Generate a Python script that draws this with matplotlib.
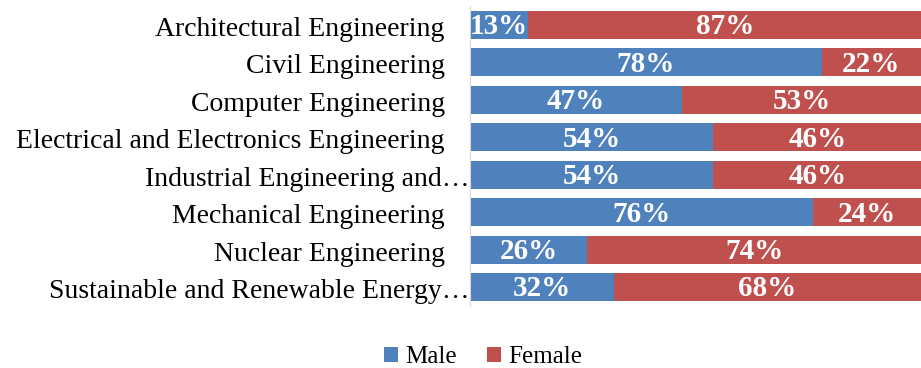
import matplotlib.pyplot as plt
import numpy as np

plt.rcParams['font.family'] = ['Liberation Serif', 'DejaVu Serif']

# data
majors = ['Architectural Engineering', 'Civil Engineering', 'Computer Engineering',
          'Electrical and Electronics Engineering', 'Industrial Engineering and\u2026',
          'Mechanical Engineering', 'Nuclear Engineering',
          'Sustainable and Renewable Energy\u2026']
male = [13, 78, 47, 54, 54, 76, 26, 32]
female = [87, 22, 53, 46, 46, 24, 74, 68]

fig = plt.figure(figsize=(9.21, 3.68), dpi=100)
ax = fig.add_axes([0.510, 0.169, 0.49, 0.814])

y = np.arange(len(majors))
b1 = ax.barh(y, male, height=0.75, color='#4F81BD', label='Male')
b2 = ax.barh(y, female, left=male, height=0.75, color='#C0504D', label='Female')

for bars, vals in ((b1, male), (b2, female)):
    for bar, v in zip(bars, vals):
        ax.text(bar.get_x() + bar.get_width() / 2, bar.get_y() + bar.get_height() / 2 + 0.05,
                f'{v}%', ha='center', va='center', color='white',
                fontsize=21, fontweight='bold')

# category labels; truncated ones run up to the axis
for yi, name in zip(y, majors):
    off = 0 if name.endswith('\u2026') else 18
    ax.annotate(name, xy=(0, yi), xycoords=ax.get_yaxis_transform(),
                xytext=(-off, -1), textcoords='offset points',
                ha='right', va='center_baseline', fontsize=20)

ax.set_xlim(0, 100)
ax.set_ylim(len(majors) - 0.5, -0.5)
ax.set_yticks([])
ax.set_xticks([])
for s in ['top', 'right', 'bottom']:
    ax.spines[s].set_visible(False)
ax.spines['left'].set_color('#D9D9D9')

fig.legend(handles=[b1, b2], loc='center', bbox_to_anchor=(0.525, 0.03), ncol=2,
           frameon=False, fontsize=18, handlelength=0.55, handleheight=0.55,
           handletextpad=0.3, columnspacing=1.2)

fig.savefig('out.png', dpi=100)
